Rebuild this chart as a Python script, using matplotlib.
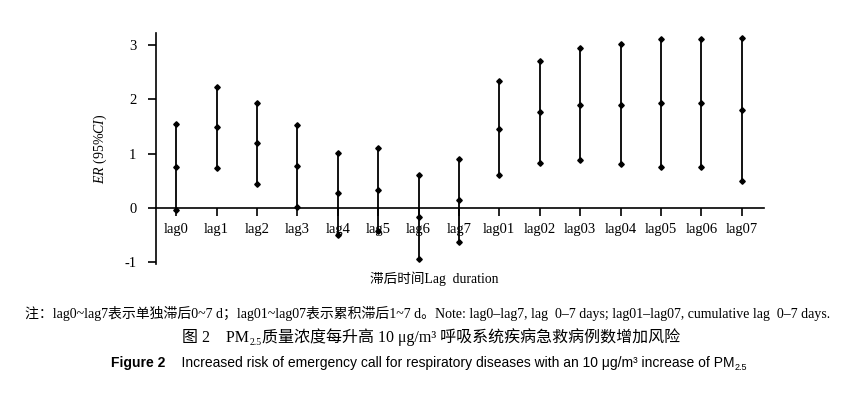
import matplotlib
matplotlib.use("Agg")
import matplotlib.pyplot as plt

plt.rcParams['font.family'] = ['Liberation Serif', 'Noto Sans CJK SC', 'DejaVu Sans']
plt.rcParams['axes.unicode_minus'] = False
plt.rcParams['mathtext.fontset'] = 'custom'
plt.rcParams['mathtext.rm'] = 'Liberation Serif'
plt.rcParams['mathtext.it'] = 'Liberation Serif:italic'

# lag labels and ER values (point estimate with 95% CI)
lags = ["lag0", "lag1", "lag2", "lag3", "lag4", "lag5", "lag6", "lag7",
        "lag01", "lag02", "lag03", "lag04", "lag05", "lag06", "lag07"]
er = [0.75, 1.49, 1.19, 0.78, 0.27, 0.34, -0.17, 0.14,
      1.46, 1.76, 1.90, 1.90, 1.93, 1.93, 1.80]
lower = [-0.03, 0.74, 0.44, 0.02, -0.49, -0.42, -0.93, -0.63,
         0.60, 0.83, 0.89, 0.81, 0.76, 0.76, 0.49]
upper = [1.55, 2.23, 1.94, 1.53, 1.02, 1.11, 0.60, 0.91,
         2.33, 2.70, 2.94, 3.01, 3.11, 3.11, 3.13]

W, H = 852, 396
fig = plt.figure(figsize=(W / 100, H / 100), dpi=100)
ax = fig.add_axes([156 / W, 1 - 264 / H, (764 - 156) / W, (264 - 33) / H])

x = list(range(len(lags)))
ax.vlines(x, lower, upper, color='black', lw=1.3)
for vals in (lower, er, upper):
    ax.plot(x, vals, linestyle='none', marker='D', markersize=2.8, color='black')

ax.set_xlim(-0.5, 14.55)
ax.set_ylim(-1.03, 3.22)
ax.set_yticks([-1, 0, 1, 2, 3])
ax.set_xticks(x)
ax.set_xticklabels(lags)

ax.spines['top'].set_visible(False)
ax.spines['right'].set_visible(False)
ax.spines['bottom'].set_position(('data', 0))
for sp in ('left', 'bottom'):
    ax.spines[sp].set_linewidth(1.2)
ax.tick_params(axis='x', direction='out', length=6, width=1.2, pad=5, labelsize=10.5)
ax.tick_params(axis='y', direction='out', length=6, width=1.2, pad=8, labelsize=10.5)

ax.set_ylabel(r'$\it{ER}$ (95%$\it{CI}$)', fontsize=10)
ax.yaxis.set_label_coords(-0.078, 0.5)

fig.text(434 / W, 1 - 279 / H, '滞后时间Lag  duration', ha='center', va='center', fontsize=9.8)

renderer = fig.canvas.get_renderer()


def text_line(parts, xc, y_base):
    # parts: (string, dy in px downward, kwargs)
    texts = []
    for s, dy, kw in parts:
        t = fig.text(0, (H - y_base - dy) / H, s, va='baseline', ha='left', **kw)
        texts.append(t)
    widths = [t.get_window_extent(renderer).width for t in texts]
    x0 = xc - sum(widths) / 2
    for t, w in zip(texts, widths):
        t.set_x(x0 / W)
        x0 += w


note = ('注：lag0~lag7表示单独滞后0~7 d；lag01~lag07表示累积滞后1~7 d。'
        'Note: lag0–lag7, lag  0–7 days; lag01–lag07, cumulative lag  0–7 days.')
text_line([(note, 0, dict(fontsize=10))], 428, 318)

text_line([('图 2    PM', 0, dict(fontsize=11.5)),
           ('2.5', 3, dict(fontsize=7)),
           ('质量浓度每升高 10 μg/m³ 呼吸系统疾病急救病例数增加风险', 0, dict(fontsize=11.5))],
          431, 342)

sans = ['Liberation Sans Narrow', 'Liberation Sans', 'DejaVu Sans']
text_line([('Figure 2', 0, dict(fontsize=10, fontweight='bold', family=sans)),
           ('    Increased risk of emergency call for respiratory diseases with an 10 μg/m³ increase of PM',
            0, dict(fontsize=10, family=sans)),
           ('2.5', 3, dict(fontsize=6.5, family=sans))],
          429, 367)

fig.savefig('out.png', dpi=100)
